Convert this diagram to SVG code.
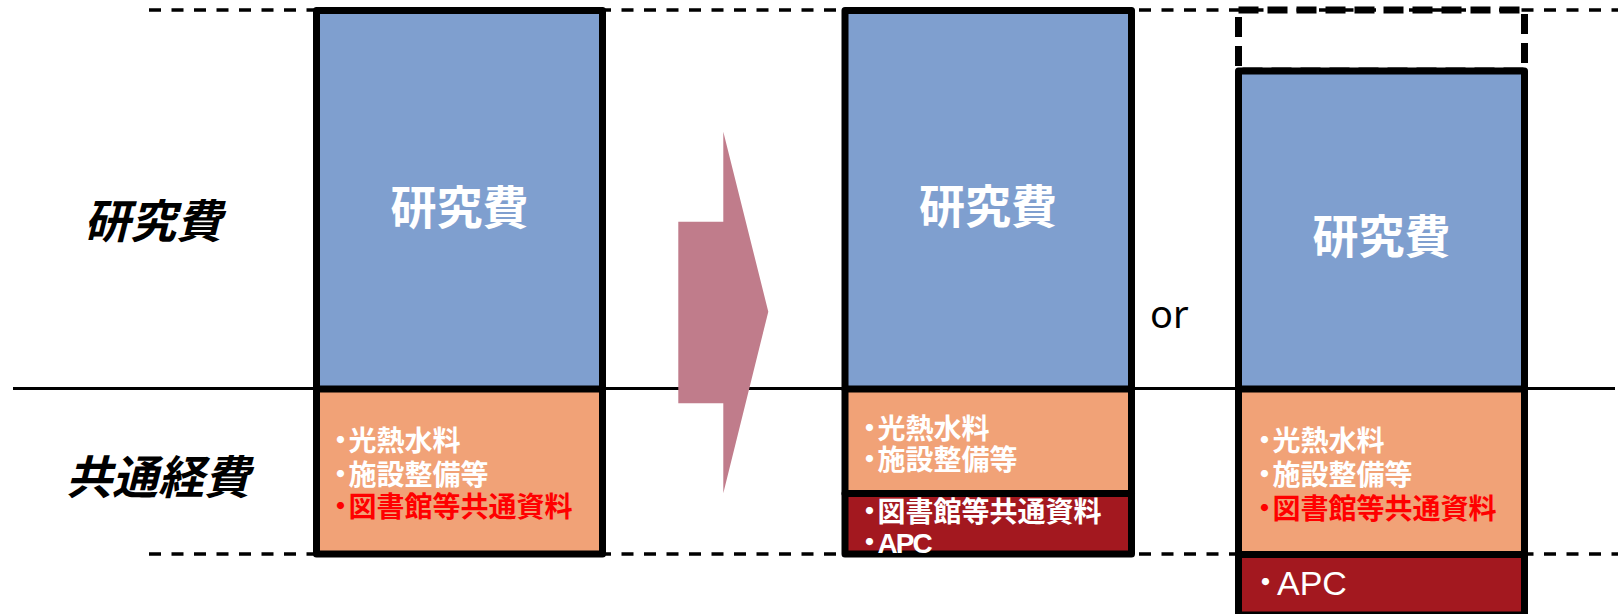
<svg xmlns="http://www.w3.org/2000/svg" width="1622" height="614" viewBox="0 0 1622 614">
<style>
.bg{fill:#ffffff}
.dash{stroke:#000;stroke-width:3.5;stroke-dasharray:12 10.5;fill:none}
.solid{stroke:#000;stroke-width:3;fill:none}
.border{stroke:#000;stroke-width:7;fill:none;stroke-linejoin:round;stroke-linecap:round}
.dborder{stroke:#000;stroke-width:7;fill:none;stroke-dasharray:20 9}
.blue{fill:#7F9FCF}
.orange{fill:#F1A277}
.dred{fill:#A3181F}
.jp{font-family:"Noto Sans CJK JP","Noto Sans CJK SC",sans-serif;font-weight:bold}
.big{font-size:46px;fill:#fff;text-anchor:middle}
.item{font-family:"Liberation Sans","Noto Sans CJK JP",sans-serif;font-weight:bold;font-size:28px;fill:#fff}
.tight{letter-spacing:-2px}
.red{fill:#FF0000}
.side{font-size:46px;fill:#000;font-style:italic}
.or{font-family:"Noto Sans",sans-serif;font-size:38px;fill:#000}
.apc{font-family:"Liberation Sans","Noto Sans CJK JP",sans-serif;font-size:34px;fill:#fff}
</style>
<rect class="bg" x="0" y="0" width="1622" height="614"/>
<g id="guides">
<line class="dash" x1="149" y1="10" x2="1618" y2="10"/>
<line class="dash" x1="149" y1="554" x2="1618" y2="554"/>
<line class="solid" x1="13" y1="388.5" x2="1615" y2="388.5"/>
</g>
<g id="label-kenkyuhi">
<text class="jp side" x="84" y="238">研究費</text>
</g>
<g id="label-kyotsukeihi">
<text class="jp side" x="66" y="494">共通経費</text>
</g>
<g id="connectors">
<polygon points="678.3,221.7 723.3,221.7 723.3,131.7 768.3,311.7 723.3,493.3 723.3,403.3 678.3,403.3" fill="#C07C8B"/>
</g>
<g id="box1">
<rect class="blue" x="316.5" y="10.5" width="286" height="378.5"/>
<rect class="orange" x="316.5" y="389" width="286" height="165"/>
<line class="border" x1="316.5" y1="389" x2="602.5" y2="389"/>
<rect class="border" x="316.5" y="10.5" width="286" height="543.5"/>
<text class="jp big" x="459.5" y="223.5">研究費</text>
<text class="item" x="326.5" y="451" dx="0 -6">・光熱水料</text>
<text class="item" x="326.5" y="484.5" dx="0 -6">・施設整備等</text>
<text class="item red" x="326.5" y="517" dx="0 -6">・図書館等共通資料</text>
</g>
<g id="box2">
<rect class="blue" x="845" y="10.5" width="286.5" height="378.5"/>
<rect class="orange" x="845" y="389" width="286.5" height="104.5"/>
<rect class="dred" x="845" y="493.5" width="286.5" height="60.5"/>
<line class="border" x1="845" y1="389" x2="1131.5" y2="389"/>
<line class="border" x1="845" y1="493.5" x2="1131.5" y2="493.5"/>
<rect class="border" x="845" y="10.5" width="286.5" height="543.5"/>
<text class="jp big" x="988" y="223">研究費</text>
<text class="item" x="855.5" y="438.5" dx="0 -6">・光熱水料</text>
<text class="item" x="855.5" y="470" dx="0 -6">・施設整備等</text>
<text class="item" x="855.5" y="521.5" dx="0 -6">・図書館等共通資料</text>
<text class="item tight" x="855.5" y="553" dx="0 -4">・APC</text>
</g>
<g id="or-label">
<text class="or" x="1150" y="328">or</text>
</g>
<g id="box3">
<rect x="1238.5" y="10" width="286" height="61" class="dborder"/>
<rect class="blue" x="1238.5" y="71" width="286" height="318"/>
<rect class="orange" x="1238.5" y="389" width="286" height="165.5"/>
<rect class="dred" x="1238.5" y="554.5" width="286" height="60.5"/>
<line class="border" x1="1238.5" y1="389" x2="1524.5" y2="389"/>
<line class="border" x1="1238.5" y1="554.5" x2="1524.5" y2="554.5"/>
<rect class="border" x="1238.5" y="71" width="286" height="544"/>
<text class="jp big" x="1381.5" y="252.5">研究費</text>
<text class="item" x="1250.5" y="451" dx="0 -6">・光熱水料</text>
<text class="item" x="1250.5" y="484.5" dx="0 -6">・施設整備等</text>
<text class="item red" x="1250.5" y="518.5" dx="0 -6">・図書館等共通資料</text>
<text class="apc" x="1248.5" y="595" dx="0 -5.5">・APC</text>
</g>
</svg>
